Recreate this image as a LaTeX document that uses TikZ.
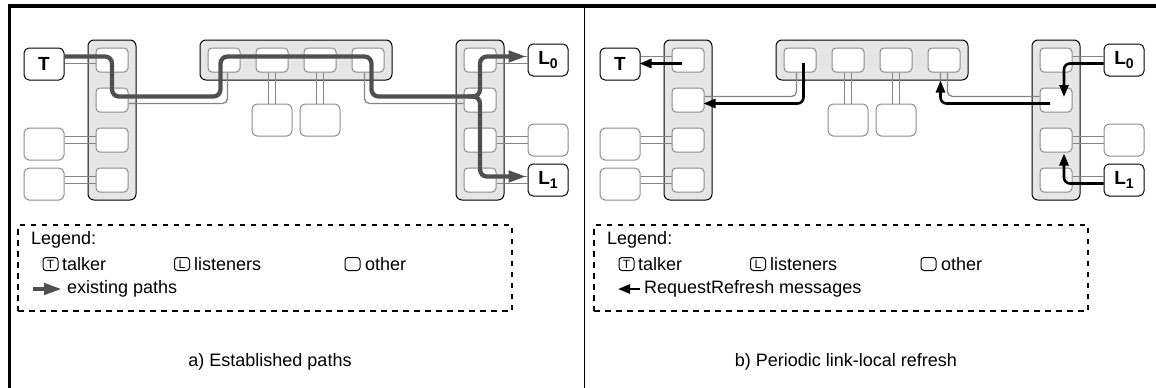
\documentclass[tikz,border=0pt]{standalone}
\usepackage{fontspec}
\setmainfont{Liberation Sans}
\usetikzlibrary{arrows.meta,calc}
\definecolor{swfill}{HTML}{E6E6E6}
\definecolor{boxgray}{HTML}{8C8C8C}
\definecolor{linkgray}{HTML}{858585}
\definecolor{pathgray}{HTML}{505050}
\newcommand{\Lsubx}[1]{\raisebox{-4pt}{\fontsize{14}{14}\selectfont #1}}
\tikzset{
  swbox/.style={draw=black, fill=swfill, line width=1pt, rounded corners=6pt, inner sep=0pt},
  port/.style={draw=boxgray, fill=white, line width=1pt, rounded corners=4pt, minimum width=32pt, minimum height=24pt, inner sep=0pt},
  host/.style={draw=boxgray, fill=white, line width=1pt, rounded corners=5pt, minimum width=40pt, minimum height=32pt, inner sep=0pt},
  endpt/.style={draw=black, fill=white, line width=1pt, rounded corners=5pt, minimum width=40pt, minimum height=32pt, inner sep=0pt, font=\fontsize{19}{19}\selectfont\bfseries},
  link/.style={draw=linkgray, line width=1.3pt, rounded corners=5pt},
  estpath/.style={draw=pathgray, line width=4.3pt, rounded corners=7pt, -{Triangle[length=18pt,width=11pt]}},
  refmsg/.style={draw=black, line width=2.6pt, rounded corners=6pt, -{Triangle[length=12pt,width=9pt]}},
  lbl/.style={font=\fontsize{18}{21}\selectfont, inner sep=0pt},
  minibox/.style={draw=black, line width=1pt, rounded corners=3pt, minimum width=15pt, minimum height=13pt, inner sep=0pt, font=\fontsize{12}{12}\selectfont},
  legbox/.style={draw=black, line width=1.4pt, dash pattern=on 5.5pt off 5.5pt, minimum width=494pt, minimum height=86pt, inner sep=0pt},
  border/.style={draw=black},
}
\newcommand{\netdraw}{%
  \node[swbox, minimum width=48pt, minimum height=160pt] (LC) at (112,120) {};
  \node[swbox, minimum width=192pt, minimum height=40pt] (TS) at (296,60) {};
  \node[swbox, minimum width=48pt, minimum height=160pt] (RC) at (480,120) {};
  \foreach \i/\y in {1/60,2/100,3/140,4/180} {
    \node[port] (l\i) at (112,\y) {};
    \node[port] (r\i) at (480,\y) {};
  }
  \foreach \i/\x in {1/224,2/272,3/320,4/368} {\node[port] (t\i) at (\x,60) {};}
  \node[endpt] (T) at (44,64) {T};
  \node[host] (o1) at (44,144) {};
  \node[host] (o2) at (44,184) {};
  \node[host] (ob1) at (272,120) {};
  \node[host] (ob2) at (320,120) {};
  \node[endpt] (L0) at (548,60) {L\Lsubx{0}};
  \node[host] (ro) at (548,140) {};
  \node[endpt] (L1) at (548,180) {L\Lsubx{1}};
  \foreach \d in {-3.5,3.5} {
    \draw[link] ($(l1.west)+(0,\d)$) -- ($(T.east |- l1)+(0,\d)$);
    \draw[link] ($(l3.west)+(0,\d)$) -- ($(o1.east |- l3)+(0,\d)$);
    \draw[link] ($(l4.west)+(0,\d)$) -- ($(o2.east |- l4)+(0,\d)$);
    \draw[link] ($(r1.east)+(0,\d)$) -- ($(L0.west |- r1)+(0,\d)$);
    \draw[link] ($(r3.east)+(0,\d)$) -- ($(ro.west |- r3)+(0,\d)$);
    \draw[link] ($(r4.east)+(0,\d)$) -- ($(L1.west |- r4)+(0,\d)$);
    \draw[link] ($(t2.south)+(\d,0)$) -- ($(ob1.north)+(\d,0)$);
    \draw[link] ($(t3.south)+(\d,0)$) -- ($(ob2.north)+(\d,0)$);
    \draw[link] ($(l2.east)+(0,\d)$) -| ($(t1.south)+(\d,0)$);
    \draw[link] ($(t4.south)+(-\d,0)$) |- ($(r2.west)+(0,\d)$);
  }
  \node[legbox] (leg) at (265,268) {};
  \node[lbl, anchor=west] (lgt) at (31,240) {Legend:};
  \node[minibox] (mT) at (50.5,264) {T};
  \node[lbl, anchor=west] (ltalk) at (62,264) {talker};
  \node[minibox] (mL) at (182,264) {L};
  \node[lbl, anchor=west] (llist) at (194,264) {listeners};
  \node[minibox] (mO) at (352.5,264) {};
  \node[lbl, anchor=west] (loth) at (365,264) {other};
}
\begin{document}
\begin{tikzpicture}[x=1pt,y=-1pt]
\useasboundingbox (0,0) rectangle (1156,388);
\draw[border, line width=4pt] (8,5.5) -- (1156,5.5);
\draw[border, line width=3pt] (9.5,3.5) -- (9.5,388);
\draw[border, line width=1pt] (584,5.5) -- (584,388);
% panel a
\begin{scope}[name prefix=a-]
  \netdraw
  \draw[estpath] ($(T.east |- l1)+(0,-3.5)$) -- ($(l1)+(0,-3.5)$) -- ($(l2)+(0,-3.5)$)
     -- ($(t1 |- l2)+(-3.5,-3.5)$) -- ($(t1)+(-3.5,-3.5)$) -- ($(t4)+(3.5,-3.5)$)
     -- ($(t4 |- r2)+(3.5,-3.5)$) -- ($(r2)+(0,-3.5)$) -- ($(r1)+(0,-3.5)$)
     -- ($(L0.west |- r1)+(-1,-3.5)$);
  \draw[estpath] ($(r2)+(-12,-3.5)$) -- ($(r2)+(0,-3.5)$) -- ($(r4)+(0,-3.5)$)
     -- ($(L1.west |- r4)+(-1,-3.5)$);
  \coordinate (ka) at (33,289);
  \coordinate (kb) at (62,289);
  \draw[estpath] (ka) -- (kb);
  \node[lbl, anchor=west] (lpath) at (67,289) {existing paths};
  \node[lbl] (cap) at (270,362) {a) Established paths};
\end{scope}
% panel b
\begin{scope}[xshift=576pt, name prefix=b-]
  \netdraw
  \draw[refmsg] ($(l1)+(-6,3.5)$) -- ($(T.east |- l1)+(-1,3.5)$);
  \draw[refmsg] ($(t1)+(3.5,3)$) -- ($(t1 |- l2)+(3.5,3.5)$) -- ($(l2.east)+(-1,3.5)$);
  \draw[refmsg] ($(r2)+(-6,3.5)$) -- ($(t4 |- r2)+(-3.5,3.5)$) -- ($(t4 |- TS.south)+(-3.5,0)$);
  \draw[refmsg] ($(L0.west |- r1)+(0,3.5)$) -- ($(r1)+(8,3.5)$) -- ($(r2)+(8,-3)$);
  \draw[refmsg] ($(L1.west |- r4)+(0,3.5)$) -- ($(r4)+(8,3.5)$) -- ($(r3.south)+(8,1)$);
  \coordinate (ka) at (64,289);
  \coordinate (kb) at (42,289);
  \draw[refmsg] (ka) -- (kb);
  \node[lbl, anchor=west] (lmsg) at (68,289) {RequestRefresh messages};
  \node[lbl] (cap) at (270,362) {b) Periodic link-local refresh};
\end{scope}
\end{tikzpicture}
\end{document}
